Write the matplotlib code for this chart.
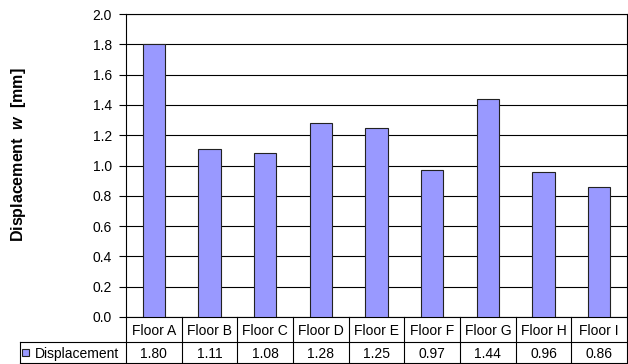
import matplotlib
matplotlib.use('agg')
import matplotlib.pyplot as plt
from matplotlib.patches import Rectangle

floors = ['Floor A', 'Floor B', 'Floor C', 'Floor D', 'Floor E', 'Floor F', 'Floor G', 'Floor H', 'Floor I']
displacement = [1.80, 1.11, 1.08, 1.28, 1.25, 0.97, 1.44, 0.96, 0.86]
yticks = [0.0, 0.2, 0.4, 0.6, 0.8, 1.0, 1.2, 1.4, 1.6, 1.8, 2.0]
series_name = 'Displacement'

plt.rcParams['font.family'] = ['Liberation Sans', 'DejaVu Sans']
plt.rcParams['mathtext.fontset'] = 'custom'
plt.rcParams['mathtext.it'] = 'Liberation Sans:italic:bold'
plt.rcParams['mathtext.rm'] = 'Liberation Sans:bold'

W, H = 628, 364
fig = plt.figure(figsize=(W / 100, H / 100), dpi=100)

# pixel helpers
def fx(px):
  return px / W
def fy(py):
  return 1 - py / H

left, right, top, bottom = 126, 627, 14, 317
ax = fig.add_axes([fx(left), fy(bottom), fx(right) - fx(left), fy(top) - fy(bottom)])

bar_color = '#9999FF'
x = [i + 0.5 for i in range(len(floors))]
ax.bar(x, displacement, width=0.4, color=bar_color, edgecolor='#222222', linewidth=0.8, zorder=3)
ax.set_xlim(0, len(floors))
ax.set_ylim(0, 2.0)
ax.set_yticks(yticks)
ax.set_yticklabels(['%.1f' % v for v in yticks], fontsize=10)
ax.yaxis.grid(True, color='#000000', linewidth=0.8, zorder=0)
ax.set_xticks([])
ax.tick_params(axis='y', length=5, width=0.8, pad=5)
for s in ax.spines.values():
  s.set_linewidth(0.8)
  s.set_color('#000000')

# y label, placed by hand like the excel chart
fig.text(fx(19), fy(155), r'Displacement  $\mathit{w}$  [mm]', rotation=90, ha='center', va='center',
         fontsize=11.5, fontweight='bold')

# data table under the axis
lw = 0.8
row1, row2, row3 = 317, 342, 363
cat_w = (right - left) / len(floors)
tbl_left = 20
lines = []
lines.append(((tbl_left, right), (row2, row2)))
lines.append(((tbl_left, right), (row3, row3)))
lines.append(((tbl_left, tbl_left), (row2, row3)))
for i in range(len(floors) + 1):
  xp = left + i * cat_w
  lines.append(((xp, xp), (row1, row3)))
for xs, ys in lines:
  fig.add_artist(plt.Line2D([fx(xs[0]), fx(xs[1])], [fy(ys[0]), fy(ys[1])],
                            transform=fig.transFigure, color='#000000', linewidth=lw))

for i, (name, val) in enumerate(zip(floors, displacement)):
  cx = left + (i + 0.5) * cat_w
  fig.text(fx(cx), fy((row1 + row2) / 2), name, ha='center', va='center_baseline', fontsize=10)
  fig.text(fx(cx), fy((row2 + row3) / 2), '%.2f' % val, ha='center', va='center_baseline', fontsize=10)

fig.add_artist(Rectangle((fx(22), fy(356)), fx(7), fy(349) - fy(356), transform=fig.transFigure,
                         facecolor=bar_color, edgecolor='#222222', linewidth=0.8))
fig.text(fx(35), fy((row2 + row3) / 2), series_name, ha='left', va='center_baseline', fontsize=10)

fig.savefig('out.png', dpi=100)
